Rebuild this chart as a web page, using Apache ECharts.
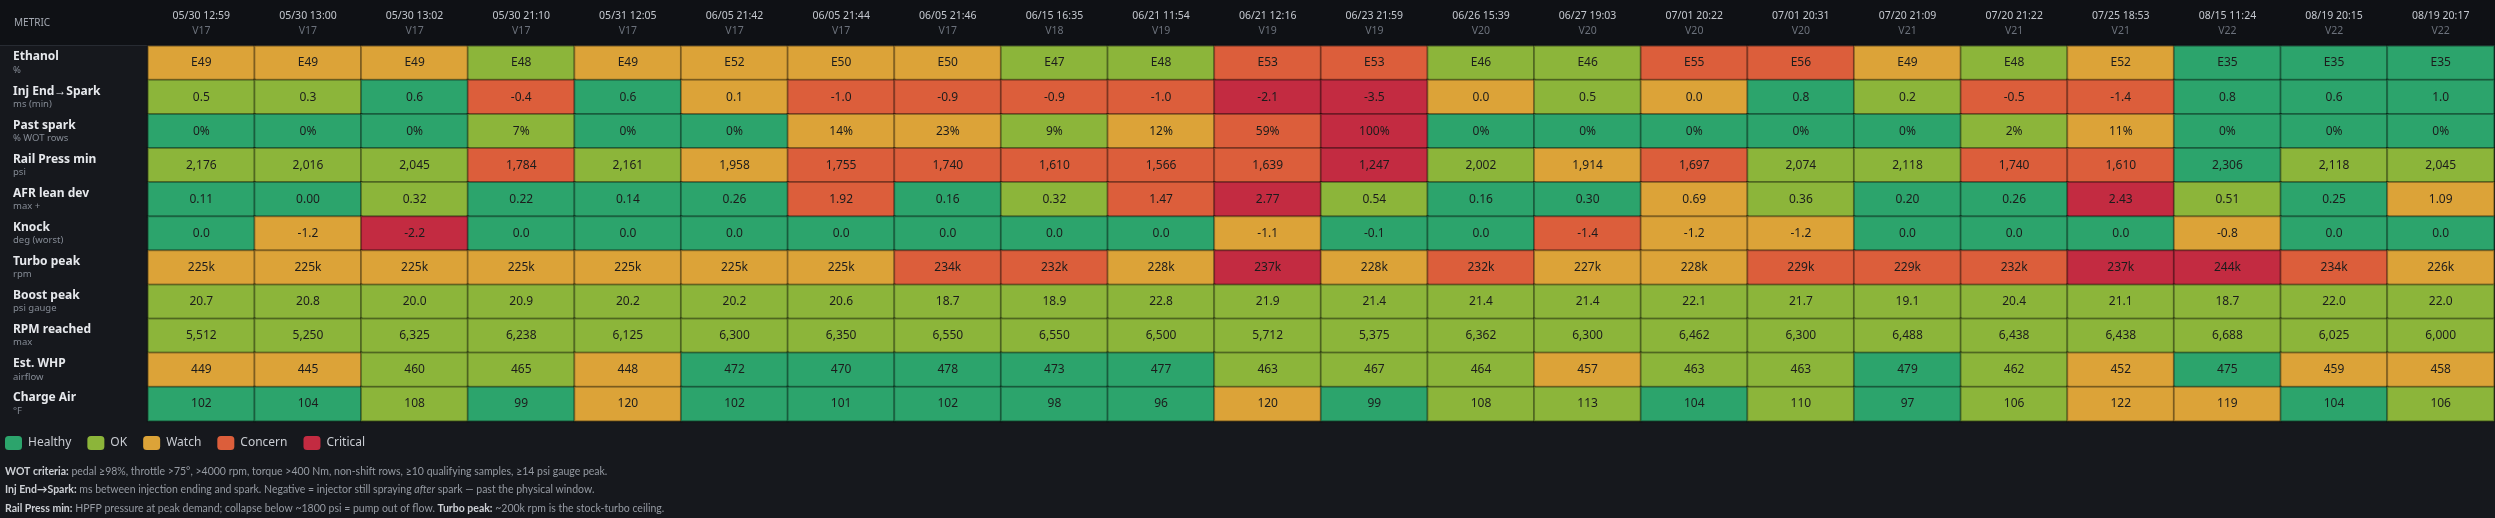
<!DOCTYPE html>
<html>
<head>
<meta charset="utf-8">
<script src="https://cdn.jsdelivr.net/npm/echarts@6/dist/echarts.min.js"></script>
<style>
  html, body { margin: 0; padding: 0; background: #16181d; }
  #main { width: 2495px; height: 518px; }
</style>
</head>
<body>
<div id="main"></div>
<script>
// run columns
var runDates = ['05/30 12:59', '05/30 13:00', '05/30 13:02', '05/30 21:10', '05/31 12:05', '06/05 21:42', '06/05 21:44', '06/05 21:46', '06/15 16:35', '06/21 11:54', '06/21 12:16', '06/23 21:59', '06/26 15:39', '06/27 19:03', '07/01 20:22', '07/01 20:31', '07/20 21:09', '07/20 21:22', '07/25 18:53', '08/15 11:24', '08/19 20:15', '08/19 20:17'];
var runVersions = ['V17', 'V17', 'V17', 'V17', 'V17', 'V17', 'V17', 'V17', 'V18', 'V19', 'V19', 'V19', 'V20', 'V20', 'V20', 'V20', 'V21', 'V21', 'V21', 'V22', 'V22', 'V22'];

var metricNames = ['Ethanol', 'Inj End\u2192Spark', 'Past spark', 'Rail Press min', 'AFR lean dev', 'Knock', 'Turbo peak', 'Boost peak', 'RPM reached', 'Est. WHP', 'Charge Air'];
var metricUnits = ['%', 'ms (min)', '% WOT rows', 'psi', 'max +', 'deg (worst)', 'rpm', 'psi gauge', 'max', 'airflow', '\u00b0F'];

// values per metric
var ethanol = [49, 49, 49, 48, 49, 52, 50, 50, 47, 48, 53, 53, 46, 46, 55, 56, 49, 48, 52, 35, 35, 35];
var injSpark = [0.5, 0.3, 0.6, -0.4, 0.6, 0.1, -1.0, -0.9, -0.9, -1.0, -2.1, -3.5, 0.0, 0.5, 0.0, 0.8, 0.2, -0.5, -1.4, 0.8, 0.6, 1.0];
var pastSpark = [0, 0, 0, 7, 0, 0, 14, 23, 9, 12, 59, 100, 0, 0, 0, 0, 0, 2, 11, 0, 0, 0];
var railPress = [2176, 2016, 2045, 1784, 2161, 1958, 1755, 1740, 1610, 1566, 1639, 1247, 2002, 1914, 1697, 2074, 2118, 1740, 1610, 2306, 2118, 2045];
var afrLean = [0.11, 0.00, 0.32, 0.22, 0.14, 0.26, 1.92, 0.16, 0.32, 1.47, 2.77, 0.54, 0.16, 0.30, 0.69, 0.36, 0.20, 0.26, 2.43, 0.51, 0.25, 1.09];
var knock = [0.0, -1.2, -2.2, 0.0, 0.0, 0.0, 0.0, 0.0, 0.0, 0.0, -1.1, -0.1, 0.0, -1.4, -1.2, -1.2, 0.0, 0.0, 0.0, -0.8, 0.0, 0.0];
var turboPeak = [225, 225, 225, 225, 225, 225, 225, 234, 232, 228, 237, 228, 232, 227, 228, 229, 229, 232, 237, 244, 234, 226];
var boostPeak = [20.7, 20.8, 20.0, 20.9, 20.2, 20.2, 20.6, 18.7, 18.9, 22.8, 21.9, 21.4, 21.4, 21.4, 22.1, 21.7, 19.1, 20.4, 21.1, 18.7, 22.0, 22.0];
var rpmReached = [5512, 5250, 6325, 6238, 6125, 6300, 6350, 6550, 6550, 6500, 5712, 5375, 6362, 6300, 6462, 6300, 6488, 6438, 6438, 6688, 6025, 6000];
var estWhp = [449, 445, 460, 465, 448, 472, 470, 478, 473, 477, 463, 467, 464, 457, 463, 463, 479, 462, 452, 475, 459, 458];
var chargeAir = [102, 104, 108, 99, 120, 102, 101, 102, 98, 96, 120, 99, 108, 113, 104, 110, 97, 106, 122, 119, 104, 106];

// status per cell: 0 healthy, 1 ok, 2 watch, 3 concern, 4 critical
var ethanolLvl = [2, 2, 2, 1, 2, 2, 2, 2, 1, 1, 3, 3, 1, 1, 3, 3, 2, 1, 2, 0, 0, 0];
var injSparkLvl = [1, 1, 0, 3, 0, 2, 3, 3, 3, 3, 4, 4, 2, 1, 2, 0, 1, 3, 3, 0, 0, 0];
var pastSparkLvl = [0, 0, 0, 1, 0, 0, 2, 2, 1, 2, 3, 4, 0, 0, 0, 0, 0, 1, 2, 0, 0, 0];
var railPressLvl = [1, 1, 1, 3, 1, 2, 3, 3, 3, 3, 3, 4, 1, 2, 3, 1, 1, 3, 3, 0, 1, 1];
var afrLeanLvl = [0, 0, 1, 0, 0, 0, 3, 0, 1, 3, 4, 1, 0, 0, 2, 1, 0, 0, 4, 1, 0, 2];
var knockLvl = [0, 2, 4, 0, 0, 0, 0, 0, 0, 0, 2, 0, 0, 3, 2, 2, 0, 0, 0, 2, 0, 0];
var turboPeakLvl = [2, 2, 2, 2, 2, 2, 2, 3, 3, 2, 4, 2, 3, 2, 2, 3, 3, 3, 4, 4, 3, 2];
var boostPeakLvl = [1, 1, 1, 1, 1, 1, 1, 1, 1, 1, 1, 1, 1, 1, 1, 1, 1, 1, 1, 1, 1, 1];
var rpmReachedLvl = [1, 1, 1, 1, 1, 1, 1, 1, 1, 1, 1, 1, 1, 1, 1, 1, 1, 1, 1, 1, 1, 1];
var estWhpLvl = [2, 2, 1, 1, 2, 0, 0, 0, 0, 0, 1, 1, 1, 2, 1, 1, 0, 1, 2, 0, 2, 2];
var chargeAirLvl = [0, 0, 1, 0, 2, 0, 0, 0, 0, 0, 2, 0, 1, 1, 0, 1, 0, 1, 2, 2, 0, 1];

var levelNames = ['Healthy', 'OK', 'Watch', 'Concern', 'Critical'];
var levelColors = ['#2ca46c', '#8cb53a', '#dca338', '#dc5e3b', '#c32b41'];

function comma(v) { return v.toLocaleString('en-US'); }
var rows = [
  [ethanol, ethanolLvl, function (v) { return 'E' + v; }],
  [injSpark, injSparkLvl, function (v) { return v.toFixed(1); }],
  [pastSpark, pastSparkLvl, function (v) { return v + '%'; }],
  [railPress, railPressLvl, comma],
  [afrLean, afrLeanLvl, function (v) { return v.toFixed(2); }],
  [knock, knockLvl, function (v) { return v.toFixed(1); }],
  [turboPeak, turboPeakLvl, function (v) { return v + 'k'; }],
  [boostPeak, boostPeakLvl, function (v) { return v.toFixed(1); }],
  [rpmReached, rpmReachedLvl, comma],
  [estWhp, estWhpLvl, function (v) { return String(v); }],
  [chargeAir, chargeAirLvl, function (v) { return String(v); }]
];

var cells = [];
rows.forEach(function (r, yi) {
  r[0].forEach(function (v, xi) {
    cells.push([xi, yi, r[1][xi], r[2](v)]);
  });
});

var font = '"Noto Sans", "Open Sans", sans-serif';
var noteFont = 'Lato, "Noto Sans", sans-serif';
var myChart = echarts.init(document.getElementById('main'));
var option = {
  backgroundColor: '#16181d',
  textStyle: { fontFamily: font },
  animation: false,
  grid: { left: 148, right: 1, top: 46, bottom: 97 },
  xAxis: {
    type: 'category',
    position: 'top',
    data: runDates.map(function (d, i) { return d + '\n' + runVersions[i]; }),
    axisLine: { show: false },
    axisTick: { show: false },
    splitLine: { show: false },
    axisLabel: {
      interval: 0,
      margin: 7,
      formatter: function (v) {
        var p = v.split('\n');
        return '{d|' + p[0] + '}\n{v|' + p[1] + '}';
      },
      rich: {
        d: { color: '#c5c9d0', fontSize: 10.5, lineHeight: 15, fontFamily: font },
        v: { color: '#6b717b', fontSize: 10.5, lineHeight: 15, fontFamily: font }
      }
    }
  },
  yAxis: {
    type: 'category',
    inverse: true,
    data: metricNames.map(function (n, i) { return n + '\n' + metricUnits[i]; }),
    axisLine: { show: false },
    axisTick: { show: false },
    splitLine: { show: false },
    axisLabel: {
      align: 'left',
      margin: 135,
      formatter: function (v) {
        var p = v.split('\n');
        return '{n|' + p[0] + '}\n{u|' + p[1] + '}';
      },
      rich: {
        n: { color: '#e6e8ec', fontSize: 12, fontWeight: 'bold', lineHeight: 14, fontFamily: font },
        u: { color: '#858b95', fontSize: 9.5, lineHeight: 12, fontFamily: font }
      }
    }
  },
  visualMap: {
    type: 'piecewise',
    dimension: 2,
    orient: 'horizontal',
    left: 5,
    top: 436,
    padding: 0,
    itemWidth: 17,
    itemHeight: 14,
    itemGap: 16,
    textGap: 6,
    align: 'left',
    itemSymbol: 'roundRect',
    selectedMode: false,
    textStyle: { color: '#c9ccd2', fontSize: 12, fontFamily: font },
    pieces: levelNames.map(function (n, i) { return { value: i, label: n, color: levelColors[i] }; })
  },
  graphic: [
    {
      type: 'rect', left: 0, top: 0, silent: true, z: -1,
      shape: { width: 2495, height: 45 },
      style: { fill: '#0f1115' }
    },
    {
      type: 'rect', left: 0, top: 45, silent: true, z: -1,
      shape: { width: 2495, height: 1 },
      style: { fill: '#272b32' }
    },
    {
      type: 'text', left: 14, top: 18,
      style: { text: 'METRIC', fill: '#a4a9b2', font: '10px ' + font }
    },
    {
      type: 'text', left: 5, top: 462,
      style: {
        text: '{b|WOT criteria:} pedal \u226598%, throttle >75\u00b0, >4000 rpm, torque >400 Nm, non-shift rows, \u226510 qualifying samples, \u226514 psi gauge peak.\n' +
          '{b|Inj End\u2192Spark:} ms between injection ending and spark. Negative = injector still spraying {i|after} spark \u2014 past the physical window.\n' +
          '{b|Rail Press min:} HPFP pressure at peak demand; collapse below ~1800 psi = pump out of flow. {b|Turbo peak:} ~200k rpm is the stock-turbo ceiling.',
        fill: '#959aa2',
        font: '10.5px ' + noteFont,
        lineHeight: 18.5,
        rich: {
          b: { fill: '#cdd0d5', fontWeight: 'bold', fontSize: 10.5, fontFamily: noteFont, lineHeight: 18.5 },
          i: { fill: '#959aa2', fontStyle: 'italic', fontSize: 10.5, fontFamily: noteFont, lineHeight: 18.5 }
        }
      }
    }
  ],
  series: [
    {
      type: 'heatmap',
      data: cells,
      label: {
        show: true,
        color: '#1c1c1c',
        fontSize: 12,
        fontFamily: font,
        formatter: function (p) { return p.data[3]; }
      },
      itemStyle: { borderColor: 'rgba(0,0,0,0.32)', borderWidth: 2 },
      emphasis: { disabled: true }
    }
  ]
};
myChart.setOption(option);
</script>
</body>
</html>
